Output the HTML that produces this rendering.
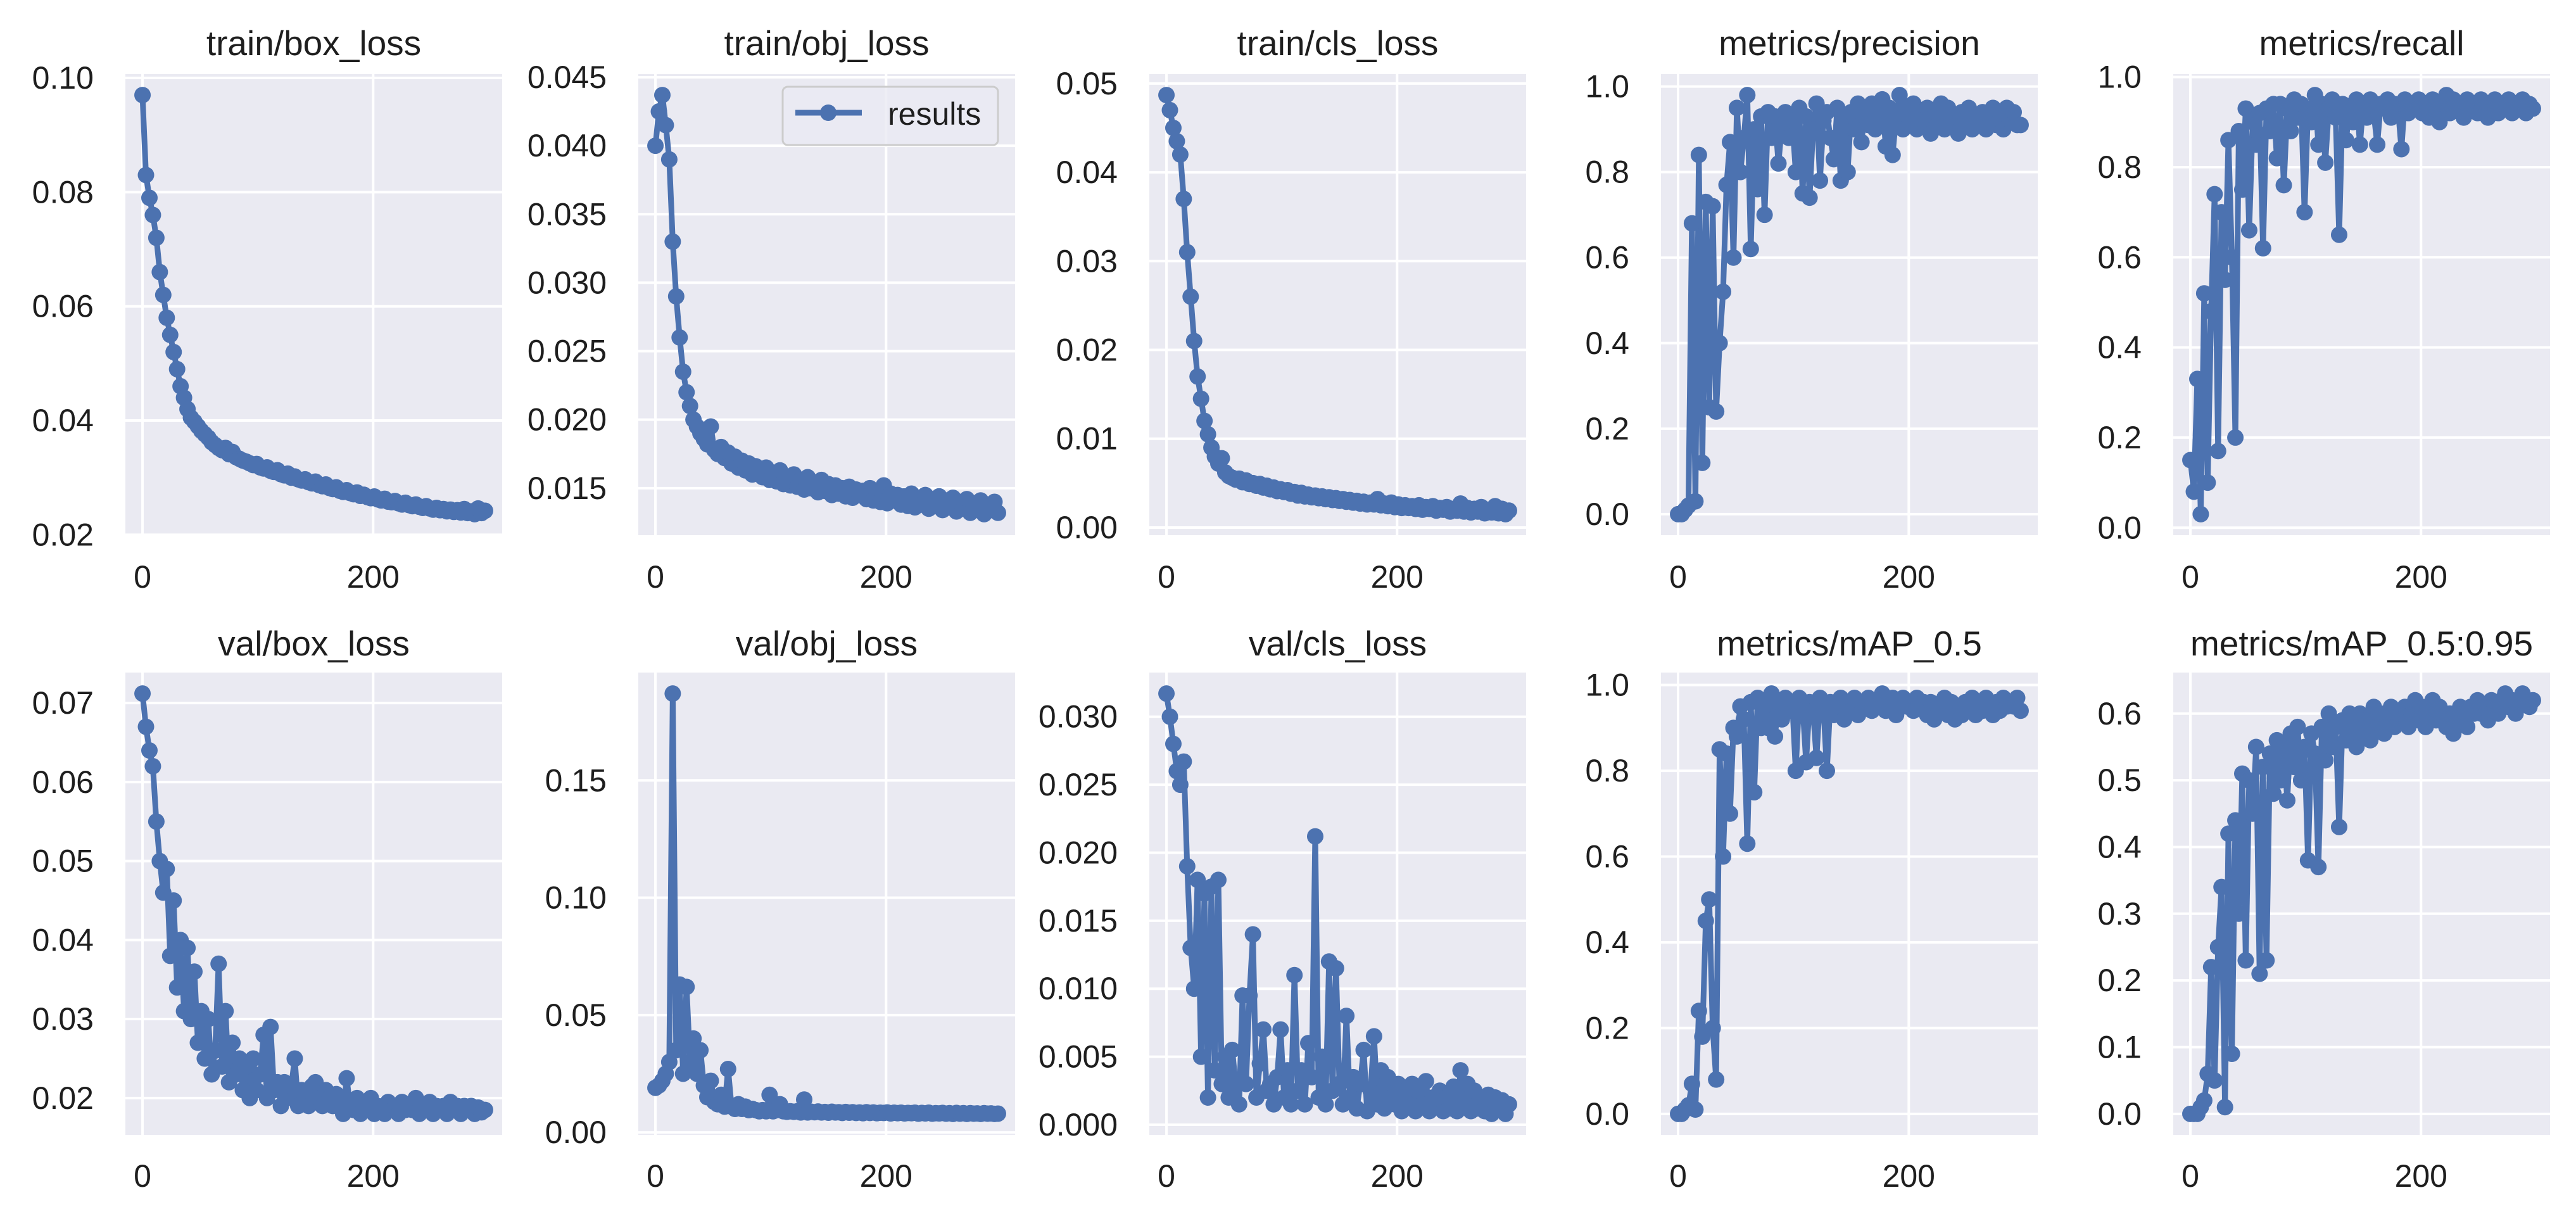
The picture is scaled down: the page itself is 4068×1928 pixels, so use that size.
<!DOCTYPE html>
<html><head><meta charset="utf-8">
<style>
html,body{margin:0;padding:0;background:#fff;}
svg{display:block;font-family:"Liberation Sans",Arial,sans-serif;}
</style></head>
<body>
<svg id="fig" width="4068" height="1928" viewBox="0 0 4068 1928" xmlns="http://www.w3.org/2000/svg"></svg>
<script>
const epochs = [];
for (let e = 0; e < 300; e += 3) epochs.push(e);
const xTicks = [0, 200];

const titles = ["train/box_loss","train/obj_loss","train/cls_loss","metrics/precision","metrics/recall",
"val/box_loss","val/obj_loss","val/cls_loss","metrics/mAP_0.5","metrics/mAP_0.5:0.95"];

const trainBox = [0.097,0.083,0.079,0.076,0.072,0.066,0.062,0.058,0.055,0.052,
0.049,0.046,0.044,0.042,0.0405,0.0398,0.039,0.0382,0.0376,0.037,
0.0362,0.0357,0.0352,0.0348,0.0352,0.0341,0.0345,0.0336,0.0333,0.0330,
0.0328,0.0325,0.0322,0.0324,0.0318,0.0316,0.0318,0.0312,0.0310,0.0313,
0.0306,0.0304,0.0307,0.0300,0.0302,0.0297,0.0295,0.0297,0.0292,0.0290,
0.0293,0.0287,0.0285,0.0288,0.0282,0.0280,0.0283,0.0277,0.0275,0.0278,
0.0273,0.0271,0.0274,0.0268,0.0270,0.0266,0.0264,0.0267,0.0262,0.0260,
0.0263,0.0258,0.0257,0.0259,0.0255,0.0253,0.0256,0.0252,0.0250,0.0253,
0.0249,0.0247,0.0250,0.0246,0.0244,0.0247,0.0243,0.0245,0.0241,0.0244,
0.0240,0.0243,0.0239,0.0245,0.0238,0.0241,0.0236,0.0246,0.0238,0.0242];
const trainObj = [0.0400,0.0425,0.0437,0.0415,0.0390,0.0330,0.0290,0.0260,0.0235,0.0220,
0.0210,0.0200,0.0195,0.0190,0.0186,0.0182,0.0195,0.0178,0.0175,0.0180,
0.0172,0.0176,0.0168,0.0173,0.0165,0.0170,0.0163,0.0168,0.0160,0.0166,
0.0162,0.0158,0.0165,0.0156,0.0161,0.0155,0.0163,0.0153,0.0158,0.0152,
0.0160,0.0151,0.0156,0.0149,0.0158,0.0150,0.0154,0.0147,0.0156,0.0148,
0.0153,0.0145,0.0152,0.0146,0.0150,0.0144,0.0151,0.0143,0.0149,0.0145,
0.0148,0.0142,0.0150,0.0141,0.0147,0.0140,0.0152,0.0139,0.0146,0.0141,
0.0145,0.0138,0.0144,0.0137,0.0146,0.0136,0.0143,0.0138,0.0145,0.0135,
0.0142,0.0137,0.0144,0.0134,0.0141,0.0136,0.0143,0.0133,0.0140,0.0135,
0.0142,0.0132,0.0139,0.0136,0.0141,0.0131,0.0138,0.0134,0.0140,0.0132];
const trainCls = [0.0487,0.0470,0.0450,0.0435,0.0420,0.0370,0.0310,0.0260,0.0210,0.0170,
0.0145,0.0120,0.0105,0.0090,0.0080,0.0072,0.0078,0.0062,0.0058,0.0056,
0.0054,0.0055,0.0051,0.0053,0.0049,0.0050,0.0047,0.0049,0.0045,0.0047,
0.0043,0.0045,0.0041,0.0043,0.0040,0.0042,0.0038,0.0040,0.0036,0.0039,
0.0035,0.0037,0.0034,0.0036,0.0033,0.0035,0.0032,0.0034,0.0031,0.0033,
0.0030,0.0032,0.0029,0.0031,0.0028,0.0030,0.0027,0.0029,0.0026,0.0028,
0.0026,0.0032,0.0025,0.0027,0.0024,0.0028,0.0023,0.0026,0.0022,0.0025,
0.0022,0.0024,0.0021,0.0025,0.0020,0.0023,0.0021,0.0024,0.0019,0.0022,
0.0020,0.0023,0.0018,0.0021,0.0019,0.0027,0.0018,0.0022,0.0017,0.0021,
0.0018,0.0023,0.0016,0.0020,0.0017,0.0024,0.0016,0.0021,0.0015,0.0019];
const precision = [0,0,0.01,0.02,0.68,0.03,0.84,0.12,0.73,0.25,
0.72,0.24,0.40,0.52,0.77,0.87,0.60,0.95,0.80,0.88,
0.98,0.62,0.90,0.76,0.93,0.70,0.94,0.88,0.93,0.82,
0.91,0.94,0.88,0.92,0.80,0.95,0.75,0.93,0.74,0.90,
0.96,0.78,0.92,0.94,0.88,0.83,0.95,0.78,0.92,0.80,
0.94,0.90,0.96,0.87,0.94,0.91,0.96,0.90,0.93,0.97,
0.86,0.95,0.84,0.93,0.98,0.90,0.95,0.92,0.96,0.90,
0.94,0.92,0.95,0.89,0.93,0.91,0.96,0.90,0.95,0.91,
0.93,0.89,0.94,0.92,0.95,0.90,0.93,0.91,0.94,0.90,
0.93,0.95,0.91,0.94,0.90,0.95,0.92,0.94,0.91,0.91];
const recall = [0.15,0.08,0.33,0.03,0.52,0.10,0.48,0.74,0.17,0.70,
0.55,0.86,0.60,0.20,0.88,0.75,0.93,0.66,0.90,0.85,
0.92,0.62,0.93,0.88,0.94,0.82,0.94,0.76,0.93,0.88,
0.95,0.91,0.94,0.70,0.93,0.90,0.96,0.85,0.94,0.81,
0.93,0.95,0.91,0.65,0.94,0.86,0.93,0.90,0.95,0.85,
0.94,0.91,0.95,0.92,0.85,0.94,0.93,0.95,0.91,0.94,
0.93,0.84,0.95,0.92,0.94,0.93,0.95,0.92,0.94,0.91,
0.95,0.92,0.90,0.94,0.96,0.92,0.95,0.93,0.94,0.91,
0.95,0.93,0.94,0.92,0.95,0.93,0.91,0.94,0.95,0.92,
0.94,0.93,0.95,0.92,0.94,0.93,0.95,0.92,0.94,0.93];
const valBox = [0.0712,0.067,0.064,0.062,0.055,0.050,0.046,0.049,0.038,0.045,
0.034,0.040,0.031,0.039,0.030,0.036,0.027,0.031,0.025,0.030,
0.023,0.026,0.037,0.024,0.031,0.022,0.027,0.023,0.025,0.021,
0.024,0.020,0.025,0.021,0.023,0.028,0.020,0.029,0.021,0.022,
0.019,0.022,0.020,0.0215,0.025,0.019,0.021,0.020,0.019,0.0215,
0.022,0.020,0.019,0.021,0.020,0.019,0.0205,0.020,0.018,0.0225,
0.019,0.0185,0.020,0.018,0.019,0.0185,0.020,0.018,0.019,0.0185,
0.018,0.0195,0.0185,0.019,0.018,0.0195,0.0185,0.019,0.0185,0.020,
0.018,0.019,0.0185,0.0195,0.018,0.019,0.0185,0.019,0.018,0.0195,
0.0185,0.019,0.018,0.019,0.0185,0.019,0.018,0.0188,0.0182,0.0185];
const valObj = [0.019,0.020,0.022,0.025,0.030,0.187,0.035,0.063,0.025,0.062,
0.030,0.040,0.025,0.035,0.020,0.015,0.022,0.013,0.012,0.016,
0.011,0.027,0.011,0.010,0.012,0.010,0.011,0.0095,0.010,0.0095,
0.009,0.0095,0.009,0.016,0.009,0.0095,0.012,0.009,0.0088,0.009,
0.0088,0.009,0.0085,0.014,0.0085,0.0088,0.0086,0.0089,0.0085,0.0087,
0.0084,0.0088,0.0085,0.0086,0.0083,0.0087,0.0084,0.0086,0.0083,0.0085,
0.0082,0.0086,0.0083,0.0085,0.0082,0.0084,0.0083,0.0085,0.0081,0.0084,
0.0082,0.0084,0.0081,0.0083,0.0082,0.0084,0.0080,0.0083,0.0081,0.0084,
0.0080,0.0082,0.0081,0.0083,0.0080,0.0082,0.0079,0.0083,0.0080,0.0082,
0.0079,0.0082,0.0080,0.0081,0.0079,0.0082,0.0080,0.0081,0.0079,0.0080];
const valCls = [0.0317,0.030,0.028,0.026,0.025,0.0267,0.019,0.013,0.010,0.018,
0.005,0.017,0.002,0.0175,0.004,0.018,0.003,0.005,0.002,0.0055,
0.003,0.0015,0.0095,0.003,0.0095,0.014,0.002,0.0045,0.007,0.0025,
0.003,0.0015,0.0035,0.007,0.002,0.004,0.0015,0.011,0.0025,0.004,
0.0015,0.006,0.0035,0.0212,0.002,0.005,0.0015,0.012,0.0025,0.0115,
0.003,0.0015,0.008,0.002,0.0035,0.0012,0.003,0.0055,0.001,0.0025,
0.0065,0.0015,0.004,0.0012,0.0035,0.002,0.0015,0.003,0.001,0.0025,
0.0015,0.003,0.001,0.0025,0.0015,0.0032,0.001,0.002,0.0015,0.0025,
0.001,0.002,0.0012,0.0028,0.001,0.004,0.0015,0.003,0.001,0.0025,
0.0012,0.002,0.001,0.0022,0.0008,0.002,0.0012,0.0018,0.0008,0.0015];
const map50 = [0,0,0.01,0.02,0.07,0.01,0.24,0.18,0.45,0.50,
0.20,0.08,0.85,0.60,0.84,0.70,0.90,0.88,0.95,0.92,
0.63,0.96,0.75,0.97,0.90,0.95,0.90,0.98,0.88,0.96,
0.92,0.97,0.94,0.96,0.80,0.97,0.95,0.82,0.96,0.94,
0.83,0.97,0.95,0.80,0.96,0.93,0.95,0.97,0.92,0.96,
0.94,0.97,0.93,0.96,0.95,0.97,0.94,0.96,0.95,0.98,
0.94,0.96,0.97,0.93,0.96,0.97,0.95,0.96,0.94,0.97,
0.95,0.96,0.93,0.96,0.92,0.95,0.94,0.97,0.93,0.96,
0.92,0.95,0.93,0.96,0.94,0.97,0.93,0.96,0.94,0.97,
0.95,0.93,0.96,0.94,0.97,0.95,0.96,0.95,0.97,0.94];
const map5095 = [0,0,0,0.01,0.02,0.06,0.22,0.05,0.25,0.34,
0.01,0.42,0.09,0.44,0.30,0.51,0.23,0.50,0.45,0.55,
0.21,0.52,0.23,0.54,0.48,0.56,0.50,0.55,0.47,0.57,
0.52,0.58,0.50,0.55,0.38,0.57,0.54,0.37,0.58,0.53,
0.60,0.55,0.58,0.43,0.59,0.56,0.60,0.58,0.55,0.60,
0.57,0.59,0.56,0.61,0.58,0.60,0.57,0.59,0.61,0.58,
0.60,0.59,0.61,0.58,0.60,0.62,0.59,0.61,0.58,0.60,
0.62,0.59,0.61,0.60,0.58,0.60,0.57,0.59,0.61,0.60,
0.58,0.61,0.60,0.62,0.60,0.61,0.59,0.62,0.61,0.60,
0.62,0.63,0.61,0.62,0.60,0.62,0.63,0.62,0.61,0.62];

const yTicks0 = [0.02,0.04,0.06,0.08,0.10];
const yTicks1 = [0.015,0.020,0.025,0.030,0.035,0.040,0.045];
const yTicks2 = [0.00,0.01,0.02,0.03,0.04,0.05];
const yTicks3 = [0,0.2,0.4,0.6,0.8,1.0];
const yTicks4 = [0,0.2,0.4,0.6,0.8,1.0];
const yTicks5 = [0.02,0.03,0.04,0.05,0.06,0.07];
const yTicks6 = [0,0.05,0.10,0.15];
const yTicks7 = [0,0.005,0.010,0.015,0.020,0.025,0.030];
const yTicks8 = [0,0.2,0.4,0.6,0.8,1.0];
const yTicks9 = [0,0.1,0.2,0.3,0.4,0.5,0.6];
const yDecimals = [2,3,2,1,1,2,2,3,1,1];

const series = [trainBox,trainObj,trainCls,precision,recall,valBox,valObj,valCls,map50,map5095];
const tickSets = [yTicks0,yTicks1,yTicks2,yTicks3,yTicks4,yTicks5,yTicks6,yTicks7,yTicks8,yTicks9];

const NS = "http://www.w3.org/2000/svg";
const svg = document.getElementById("fig");
function mk(tag, attrs, parent){ const e=document.createElementNS(NS,tag); for(const k in attrs) e.setAttribute(k,attrs[k]); (parent||svg).appendChild(e); return e; }

const lefts = [198,1008,1815,2623,3432];
const PW = 595;
const rows = [{top:117,bottom:845,titleY:68,xlabY:911},{top:1062,bottom:1792,titleY:1016,xlabY:1857}];
const COLOR = "#4C72B0";

for (let p=0;p<10;p++){
  const r = rows[Math.floor(p/5)], L = lefts[p%5], R = L+PW, T=r.top, B=r.bottom;
  const data = series[p];
  const n = Math.min(data.length, epochs.length);
  const xmin0 = Math.min(...epochs.slice(0,n)), xmax0 = Math.max(...epochs.slice(0,n));
  const xm = (xmax0-xmin0)*0.05, xlo=xmin0-xm, xhi=xmax0+xm;
  const vals = data.slice(0,n);
  const ymin0=Math.min(...vals), ymax0=Math.max(...vals), ym=(ymax0-ymin0)*0.05;
  const ylo=ymin0-ym, yhi=ymax0+ym;
  const sx = v => L + (v-xlo)/(xhi-xlo)*PW;
  const sy = v => B - (v-ylo)/(yhi-ylo)*(B-T);

  const g = mk("g",{});
  
  

  const bg = mk("rect",{x:L,y:T,width:PW,height:B-T,fill:"#EAEAF2"},g);
  
  

  for (const t of tickSets[p]){
    const y = sy(t);
    if (y < T-1 || y > B+1) continue;
    const gl = mk("line",{x1:L,x2:R,y1:y,y2:y,stroke:"#fff","stroke-width":4},g);
    
    
    const tl = mk("text",{x:L-50,y:y,"text-anchor":"end","dominant-baseline":"central","font-size":50,fill:"#1e1e1e"},g);
    tl.textContent = t.toFixed(yDecimals[p]);
    
    
  }
  for (const t of xTicks){
    const x = sx(t);
    const gl = mk("line",{x1:x,x2:x,y1:T,y2:B,stroke:"#fff","stroke-width":4},g);
    
    
    const tl = mk("text",{x:x,y:r.xlabY,"text-anchor":"middle","dominant-baseline":"central","font-size":50,fill:"#1e1e1e"},g);
    tl.textContent = String(t);
    
    
  }
  const tt = mk("text",{x:L+PW/2,y:r.titleY,"text-anchor":"middle","dominant-baseline":"central","font-size":55,fill:"#1e1e1e"},g);
  tt.textContent = titles[p];
  
  

  let d = "";
  for (let i=0;i<n;i++) d += (i?"L":"M") + sx(epochs[i]).toFixed(1) + " " + sy(vals[i]).toFixed(1);
  const line = mk("path",{d:d,fill:"none",stroke:COLOR,"stroke-width":9,"stroke-linejoin":"round"},g);
  
  
  for (let i=0;i<n;i++){
    const c = mk("circle",{cx:sx(epochs[i]),cy:sy(vals[i]),r:13,fill:COLOR},g);
    
    
  }

  if (p===1){
    const lg = mk("g",{},g);
    
    
    mk("rect",{x:1236,y:137,width:340,height:92,rx:8,fill:"#EAEAF2",stroke:"#cccccc","stroke-width":3,"fill-opacity":0.8},lg);
    mk("line",{x1:1256,x2:1361,y1:178,y2:178,stroke:COLOR,"stroke-width":9},lg);
    mk("circle",{cx:1308,cy:178,r:13,fill:COLOR},lg);
    const lt = mk("text",{x:1402,y:180,"dominant-baseline":"central","font-size":50,fill:"#1e1e1e"},lg);
    lt.textContent = "results";
    
    
  }
}
</script>
</body></html>
